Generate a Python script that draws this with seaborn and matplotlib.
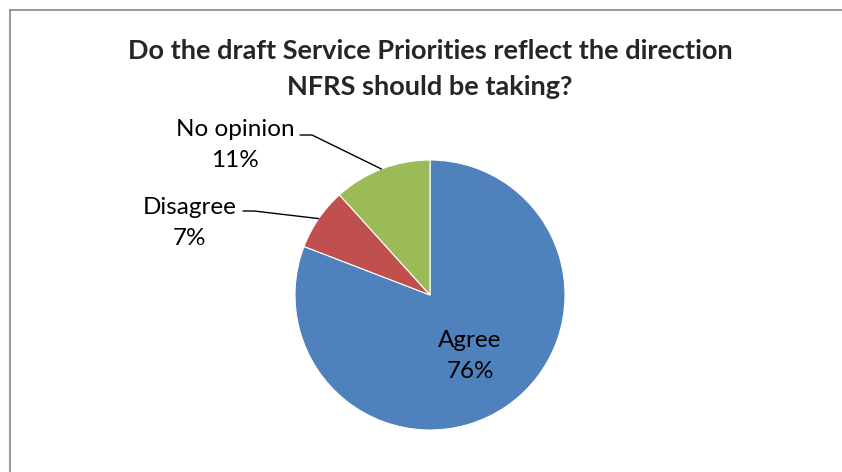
import numpy as np
import seaborn as sns
import matplotlib.pyplot as plt

# survey answers (labels show the rounded shares)
categories = ['Agree', 'Disagree', 'No opinion']
shares = [76, 7, 11]
slice_colors = ['#4F81BD', '#C0504D', '#9BBB59']
title_text = 'Do the draft Service Priorities reflect the direction\nNFRS should be taking?'

sns.set_theme(style='white')
plt.rcParams['font.family'] = ['Lato', 'DejaVu Sans']

W, H = 842, 472
fig = plt.figure(figsize=(W / 100, H / 100), dpi=100)
fig.patch.set_facecolor('white')

# chart border (only top and left edges are inside the picture)
fig.add_artist(plt.Line2D([10 / W, 1], [1 - 10 / H, 1 - 10 / H], color='#868686', lw=1.2))
fig.add_artist(plt.Line2D([10 / W, 10 / W], [0, 1 - 10 / H], color='#868686', lw=1.2))

fig.text(430 / W, 1 - 69 / H, title_text, ha='center', va='center',
         fontsize=19.5, fontweight='bold', linespacing=1.62)

cx, cy, r = 430, 295, 135
ax = fig.add_axes([(cx - r) / W, (H - cy - r) / H, 2 * r / W, 2 * r / H])
wedges, _ = ax.pie(shares, colors=slice_colors, startangle=90, counterclock=False,
                   wedgeprops=dict(edgecolor='white', linewidth=0.8))
ax.set_xlim(-1, 1)
ax.set_ylim(-1, 1)
ax.set_aspect('equal')
ax.axis('off')

def to_data(px, py):
    return (px - cx) / r, (cy - py) / r

label_pos = {'Agree': (470, 356), 'Disagree': (190, 223), 'No opinion': (235, 145)}
elbows = {'Disagree': ((243, 211), (254, 211)), 'No opinion': ((300, 135), (312, 135))}

for w, name, val in zip(wedges, categories, shares):
    pct = '{}%'.format(val)
    tx, ty = to_data(*label_pos[name])
    ax.text(tx, ty, '{}\n{}'.format(name, pct), ha='center', va='center',
            fontsize=17.5, color='black', linespacing=1.62, clip_on=False)
    if name in elbows:
        mid = np.deg2rad((w.theta1 + w.theta2) / 2)
        ex, ey = 1.0 * np.cos(mid), 1.0 * np.sin(mid)
        (ax0, ay0), (ax1, ay1) = elbows[name]
        p0 = to_data(ax0, ay0)
        p1 = to_data(ax1, ay1)
        ax.plot([p0[0], p1[0], ex], [p0[1], p1[1], ey], color='black', lw=1, clip_on=False)

fig.savefig('out.png', dpi=100, facecolor='white')
